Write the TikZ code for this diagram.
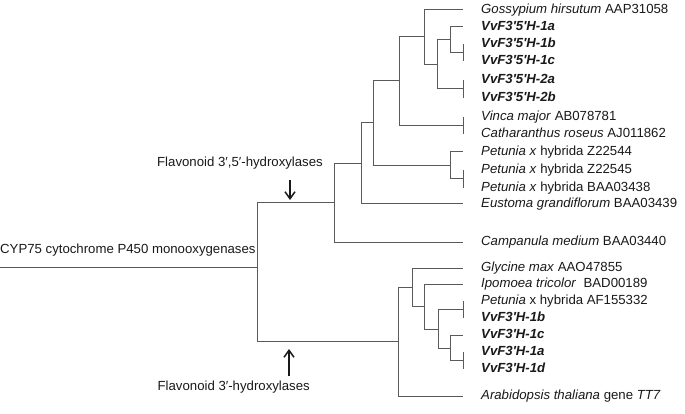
\documentclass[tikz,border=0pt]{standalone}
\usepackage{fontspec}
\setmainfont{Liberation Sans}
\usetikzlibrary{arrows.meta}
\definecolor{treegray}{RGB}{90,90,90}
\definecolor{labelblack}{RGB}{25,25,25}
\newcommand{\fvt}[1]{\textbf{\textit{#1}}}

\begin{document}
\begin{tikzpicture}[x=1pt, y=-1pt, font=\fontsize{13.2}{15}\selectfont,
    branch/.style={draw=treegray, line width=1pt},
    leaf/.style={anchor=west, inner xsep=18pt, inner ysep=0pt, text height=9.5pt, text depth=2.7pt, text=labelblack},
    lbl/.style={inner sep=0pt, text=labelblack},
    arr/.style={-{Straight Barb[length=7pt, width=10pt]}, line width=1.5pt, labelblack}]
    \useasboundingbox (0,0) rectangle (685,414);

    % Leaves, flavonoid 3',5'-hydroxylases
    \node[leaf] (gh)  at (463,10)  {\textit{Gossypium hirsutum} AAP31058};
    \node[leaf] (f1a) at (463,27)  {\fvt{VvF3′5′H-1a}};
    \node[leaf] (f1b) at (463,44)  {\fvt{VvF3′5′H-1b}};
    \node[leaf] (f1c) at (463,61)  {\fvt{VvF3′5′H-1c}};
    \node[leaf] (f2a) at (463,80)  {\fvt{VvF3′5′H-2a}};
    \node[leaf] (f2b) at (463,98)  {\fvt{VvF3′5′H-2b}};
    \node[leaf] (vm)  at (463,117) {\textit{Vinca major} AB078781};
    \node[leaf] (cr)  at (463,134) {\textit{Catharanthus roseus} AJ011862};
    \node[leaf] (p1)  at (463,152) {\textit{Petunia x} hybrida Z22544};
    \node[leaf] (p2)  at (463,170) {\textit{Petunia x} hybrida Z22545};
    \node[leaf] (p3)  at (463,188) {\textit{Petunia x} hybrida BAA03438};
    \node[leaf] (eg)  at (463,204) {\textit{Eustoma grandiflorum} BAA03439};
    \node[leaf] (cm)  at (463,242) {\textit{Campanula medium} BAA03440};

    % Leaves, flavonoid 3'-hydroxylases
    \node[leaf] (gm)  at (463,268) {\textit{Glycine max} AAO47855};
    \node[leaf] (it)  at (463,284) {\textit{Ipomoea tricolor}~ BAD00189};
    \node[leaf] (pa)  at (463,301) {\textit{Petunia} x hybrida AF155332};
    \node[leaf] (h1b) at (463,318) {\fvt{VvF3′H-1b}};
    \node[leaf] (h1c) at (463,335) {\fvt{VvF3′H-1c}};
    \node[leaf] (h1a) at (463,352) {\fvt{VvF3′H-1a}};
    \node[leaf] (h1d) at (463,369) {\fvt{VvF3′H-1d}};
    \node[leaf] (at)  at (463,396) {\textit{Arabidopsis thaliana} gene \textit{TT7}};

    % Inner nodes
    \coordinate (m1bc) at (463,52.5);
    \coordinate (m2ab) at (463,89);
    \coordinate (mvc)  at (463,125.5);
    \coordinate (mp23) at (463,179);
    \coordinate (a1)   at (450,40);
    \coordinate (a3)   at (437,64.5);
    \coordinate (a4)   at (424,37);
    \coordinate (a5)   at (399,81);
    \coordinate (a6)   at (450,165.5);
    \coordinate (a7)   at (373,123);
    \coordinate (a8)   at (361,163.5);
    \coordinate (a9)   at (334,203);
    \coordinate (mpb)  at (463,309.5);
    \coordinate (mad)  at (463,360.5);
    \coordinate (b4)   at (450,348);
    \coordinate (b3)   at (438,329);
    \coordinate (b2)   at (424,306);
    \coordinate (b1)   at (412,287);
    \coordinate (b0)   at (398,341.5);
    \coordinate (root) at (257,267);
    \coordinate (base) at (0,267);

    % Collapsed groups
    \draw[branch] (f1b.west) -- (f1c.west);
    \draw[branch] (f2a.west) -- (f2b.west);
    \draw[branch] (vm.west) -- (cr.west);
    \draw[branch] (p2.west) -- (p3.west);
    \draw[branch] (pa.west) -- (h1b.west);
    \draw[branch] (h1a.west) -- (h1d.west);

    % Branches, upper clade
    \draw[branch] (a1) |- (f1a.west);  \draw[branch] (a1) |- (m1bc);
    \draw[branch] (a3) |- (a1);        \draw[branch] (a3) |- (m2ab);
    \draw[branch] (a4) |- (gh.west);   \draw[branch] (a4) |- (a3);
    \draw[branch] (a5) |- (a4);        \draw[branch] (a5) |- (mvc);
    \draw[branch] (a6) |- (p1.west);   \draw[branch] (a6) |- (mp23);
    \draw[branch] (a7) |- (a5);        \draw[branch] (a7) |- (a6);
    \draw[branch] (a8) |- (a7);        \draw[branch] (a8) |- (eg.west);
    \draw[branch] (a9) |- (a8);        \draw[branch] (a9) |- (cm.west);

    % Branches, lower clade
    \draw[branch] (b4) |- (h1c.west);  \draw[branch] (b4) |- (mad);
    \draw[branch] (b3) |- (mpb);       \draw[branch] (b3) |- (b4);
    \draw[branch] (b2) |- (it.west);   \draw[branch] (b2) |- (b3);
    \draw[branch] (b1) |- (gm.west);   \draw[branch] (b1) |- (b2);
    \draw[branch] (b0) |- (b1);        \draw[branch] (b0) |- (at.west);

    % Root
    \draw[branch] (root) |- (a9);      \draw[branch] (root) |- (b0);
    \draw[branch] (base) -- (root);

    % Group labels
    \node[lbl, anchor=base west] (cyp) at (0,253) {CYP75 cytochrome P450 monooxygenases};
    \node[lbl, anchor=base east] (f35) at (323,167) {Flavonoid 3′,5′-hydroxylases};
    \node[lbl, anchor=base east] (f3)  at (310,390) {Flavonoid 3′-hydroxylases};
    \coordinate (f35tip) at (290,200);
    \coordinate (f3tip)  at (289,349);
    \draw[arr, shorten <=10pt] (f35.south -| f35tip) -- (f35tip);
    \draw[arr, shorten <=4pt] (f3.north -| f3tip) -- (f3tip);
\end{tikzpicture}
\end{document}
